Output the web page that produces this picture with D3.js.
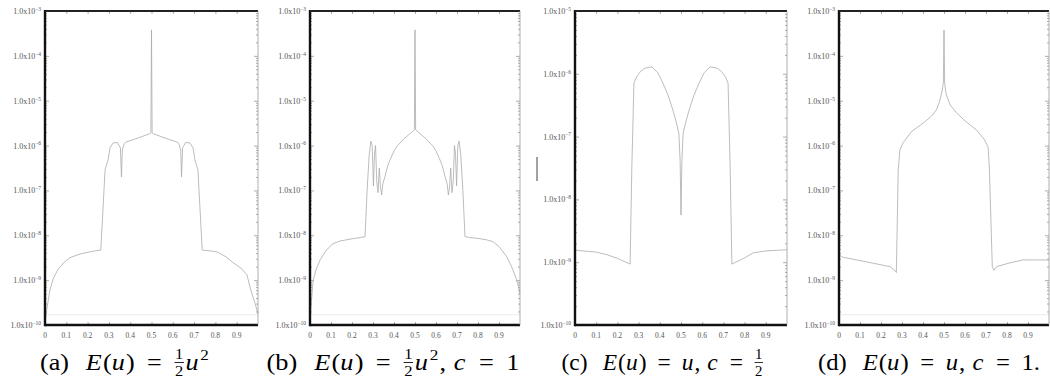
<!DOCTYPE html>
<html>
<head>
<meta charset="utf-8">
<script src="https://cdn.jsdelivr.net/npm/d3@7"></script>
<style>
  body { margin: 0; background: #fff; }
  svg { display: block; }
  text { font-family: "Liberation Serif", "DejaVu Serif", serif; }
</style>
</head>
<body>
<svg id="chart" width="1050" height="385"></svg>
<script>
// x ticks shared by all four panels
const xTicks = [0, 0.1, 0.2, 0.3, 0.4, 0.5, 0.6, 0.7, 0.8, 0.9];
const xTickLabels = ["0", "0.1", "0.2", "0.3", "0.4", "0.5", "0.6", "0.7", "0.8", "0.9"];

// decade exponents on the y axes (log scale)
const expTall = [-3, -4, -5, -6, -7, -8, -9, -10];
const expShort = [-5, -6, -7, -8, -9, -10];

// (a) E(u) = 1/2 u^2
const posA = [0, 0.008, 0.023, 0.04, 0.06, 0.09, 0.117, 0.15, 0.18, 0.22, 0.262, 0.282, 0.296, 0.305, 0.32, 0.34, 0.354, 0.359, 0.363, 0.372, 0.38, 0.42, 0.46, 0.49, 0.497, 0.5, 0.503, 0.51, 0.54, 0.58, 0.62, 0.628, 0.637, 0.641, 0.646, 0.66, 0.68, 0.695, 0.704, 0.718, 0.738, 0.78, 0.807, 0.85, 0.88, 0.92, 0.948, 0.966, 0.985, 1];
const valA = [1.12e-10, 2.14e-10, 6.03e-10, 1.12e-9, 1.7e-9, 2.51e-9, 3.16e-9, 3.63e-9, 3.98e-9, 4.37e-9, 4.68e-9, 2.88e-7, 4.79e-7, 8.91e-7, 1.15e-6, 1.17e-6, 8.91e-7, 2.0e-7, 7.94e-7, 1.12e-6, 1.2e-6, 1.38e-6, 1.62e-6, 1.82e-6, 1.91e-6, 3.8e-4, 1.91e-6, 1.82e-6, 1.62e-6, 1.38e-6, 1.2e-6, 1.12e-6, 7.94e-7, 2.0e-7, 8.91e-7, 1.17e-6, 1.15e-6, 8.91e-7, 4.79e-7, 2.88e-7, 4.68e-9, 4.47e-9, 4.27e-9, 3.31e-9, 2.51e-9, 1.86e-9, 1.32e-9, 6.03e-10, 3.16e-10, 1.78e-10];

// (b) E(u) = 1/2 u^2, c = 1
const posB = [0, 0.008, 0.015, 0.03, 0.048, 0.075, 0.105, 0.14, 0.175, 0.21, 0.24, 0.262, 0.272, 0.282, 0.29, 0.296, 0.302, 0.307, 0.312, 0.318, 0.324, 0.33, 0.335, 0.341, 0.347, 0.357, 0.37, 0.381, 0.4, 0.413, 0.45, 0.48, 0.497, 0.5, 0.503, 0.52, 0.55, 0.587, 0.6, 0.619, 0.63, 0.643, 0.653, 0.659, 0.665, 0.67, 0.676, 0.682, 0.688, 0.693, 0.698, 0.704, 0.71, 0.718, 0.728, 0.738, 0.76, 0.8, 0.84, 0.87, 0.9, 0.937, 0.96, 0.985, 1];
const valB = [1.41e-10, 3.98e-10, 1.0e-9, 1.78e-9, 2.82e-9, 4.47e-9, 6.31e-9, 7.41e-9, 7.94e-9, 8.51e-9, 8.91e-9, 9.33e-9, 1.0e-7, 6.31e-7, 1.26e-6, 1.0e-6, 1.26e-7, 6.31e-7, 1.0e-6, 1.58e-7, 8.91e-8, 3.16e-7, 1.26e-7, 7.94e-8, 1.41e-7, 2.04e-7, 3.55e-7, 4.79e-7, 7.59e-7, 9.55e-7, 1.45e-6, 1.91e-6, 2.24e-6, 3.8e-4, 2.24e-6, 1.91e-6, 1.45e-6, 9.55e-7, 7.59e-7, 4.79e-7, 3.55e-7, 2.04e-7, 1.41e-7, 7.94e-8, 1.26e-7, 3.16e-7, 8.91e-8, 1.58e-7, 1.0e-6, 6.31e-7, 1.26e-7, 1.0e-6, 1.26e-6, 6.31e-7, 1.0e-7, 9.33e-9, 8.91e-9, 8.51e-9, 7.94e-9, 7.24e-9, 5.62e-9, 3.31e-9, 2.0e-9, 1.0e-9, 5.01e-10];

// (c) E(u) = u, c = 1/2
const posC = [0, 0.04, 0.1, 0.15, 0.2, 0.26, 0.268, 0.278, 0.29, 0.31, 0.33, 0.362, 0.39, 0.415, 0.44, 0.462, 0.48, 0.49, 0.496, 0.5, 0.504, 0.51, 0.52, 0.538, 0.56, 0.585, 0.61, 0.638, 0.67, 0.69, 0.71, 0.722, 0.732, 0.74, 0.8, 0.84, 0.9, 1];
const valC = [1.55e-9, 1.51e-9, 1.45e-9, 1.32e-9, 1.15e-9, 9.33e-10, 3.16e-8, 7.08e-7, 8.91e-7, 1.1e-6, 1.23e-6, 1.29e-6, 1.05e-6, 7.08e-7, 4.47e-7, 2.63e-7, 1.58e-7, 1.12e-7, 3.98e-8, 5.62e-9, 3.98e-8, 1.12e-7, 1.58e-7, 2.63e-7, 4.47e-7, 7.08e-7, 1.05e-6, 1.29e-6, 1.23e-6, 1.1e-6, 8.91e-7, 7.08e-7, 3.16e-8, 9.33e-10, 1.17e-9, 1.41e-9, 1.51e-9, 1.58e-9];

// (d) E(u) = u, c = 1
const posD = [0, 0.02, 0.084, 0.16, 0.243, 0.265, 0.273, 0.282, 0.29, 0.305, 0.345, 0.4, 0.44, 0.465, 0.48, 0.49, 0.497, 0.5, 0.503, 0.51, 0.53, 0.56, 0.6, 0.654, 0.69, 0.71, 0.716, 0.73, 0.738, 0.75, 0.81, 0.875, 0.94, 1];
const valD = [3.63e-9, 3.24e-9, 2.82e-9, 2.4e-9, 2.0e-9, 1.66e-9, 1.48e-9, 2.88e-7, 7.94e-7, 1.15e-6, 2.04e-6, 3.16e-6, 4.47e-6, 6.31e-6, 1.0e-5, 1.58e-5, 2.51e-5, 3.8e-4, 2.51e-5, 1.41e-5, 7.94e-6, 5.37e-6, 3.55e-6, 2.24e-6, 1.41e-6, 9.33e-7, 3.16e-7, 2.0e-9, 1.66e-9, 2.0e-9, 2.4e-9, 2.82e-9, 2.82e-9, 2.82e-9];

// faint reference line near the bottom of panels a, b, d
const guideValue = 1.7e-10;

const svg = d3.select("#chart");
const plotTop = 11, plotBottom = 325;

const panels = [
  { pos: posA, val: valA, exps: expTall,  x0: 45,  x1: 258,  guide: true },
  { pos: posB, val: valB, exps: expTall,  x0: 310, x1: 520,  guide: true },
  { pos: posC, val: valC, exps: expShort, x0: 575, x1: 787,  guide: false },
  { pos: posD, val: valD, exps: expTall,  x0: 839, x1: 1049, guide: true }
];

panels.forEach(p => {
  const g = svg.append("g");

  const x = d3.scaleLinear().domain([0, 1]).range([p.x0, p.x1]);
  const y = d3.scaleLog()
    .domain([Math.pow(10, p.exps[p.exps.length - 1]), Math.pow(10, p.exps[0])])
    .range([plotBottom, plotTop]);

  const major = p.exps.map(e => Math.pow(10, e));
  const minor = [];
  p.exps.slice(1).forEach(e => {
    for (let k = 2; k <= 9; k++) minor.push(k * Math.pow(10, e));
  });

  if (p.guide) {
    g.append("line")
      .attr("x1", x(0)).attr("x2", x(1))
      .attr("y1", y(guideValue)).attr("y2", y(guideValue))
      .attr("stroke", "#ececec")
      .attr("stroke-width", 1);
  }

  // tick marks on all four sides, pointing inward
  const tickStyle = sel => {
    sel.select(".domain").remove();
    sel.selectAll("line").attr("stroke", "#888").attr("stroke-width", 0.7);
  };
  g.append("g").attr("transform", `translate(0,${plotBottom})`)
    .call(d3.axisBottom(x).tickValues(xTicks).tickSize(-3).tickFormat(""))
    .call(tickStyle);
  g.append("g").attr("transform", `translate(0,${plotTop})`)
    .call(d3.axisTop(x).tickValues(xTicks).tickSize(-3).tickFormat(""))
    .call(tickStyle);
  g.append("g").attr("transform", `translate(${p.x0},0)`)
    .call(d3.axisLeft(y).tickValues(major).tickSize(-4).tickFormat(""))
    .call(tickStyle);
  g.append("g").attr("transform", `translate(${p.x0},0)`)
    .call(d3.axisLeft(y).tickValues(minor).tickSize(-2).tickFormat(""))
    .call(tickStyle);
  g.append("g").attr("transform", `translate(${p.x1},0)`)
    .call(d3.axisRight(y).tickValues(major).tickSize(-4).tickFormat(""))
    .call(tickStyle);
  g.append("g").attr("transform", `translate(${p.x1},0)`)
    .call(d3.axisRight(y).tickValues(minor).tickSize(-2).tickFormat(""))
    .call(tickStyle);

  // the curve
  const line = d3.line().x(d => x(d[0])).y(d => y(d[1]));
  g.append("path")
    .datum(d3.zip(p.pos, p.val))
    .attr("d", line)
    .attr("fill", "none")
    .attr("stroke", "#ababab")
    .attr("stroke-width", 0.8);

  // frame: heavy left/bottom/top, thin right
  g.append("line").attr("x1", p.x0).attr("x2", p.x0).attr("y1", plotTop - 1).attr("y2", plotBottom + 1.2)
    .attr("stroke", "#111").attr("stroke-width", 2.4);
  g.append("line").attr("x1", p.x0).attr("x2", p.x1).attr("y1", plotBottom).attr("y2", plotBottom)
    .attr("stroke", "#111").attr("stroke-width", 2.4);
  g.append("line").attr("x1", p.x0).attr("x2", p.x1).attr("y1", plotTop).attr("y2", plotTop)
    .attr("stroke", "#222").attr("stroke-width", 1.8);
  g.append("line").attr("x1", p.x1).attr("x2", p.x1).attr("y1", plotTop).attr("y2", plotBottom)
    .attr("stroke", "#999").attr("stroke-width", 0.8);

  // x tick labels
  g.selectAll(".xl").data(xTicks).enter().append("text")
    .attr("x", d => x(d))
    .attr("y", plotBottom + 12.5)
    .attr("text-anchor", "middle")
    .attr("font-size", 7.5)
    .attr("fill", "#555")
    .text((d, i) => xTickLabels[i]);

  // y tick labels: 1.0x10^e
  const yl = g.selectAll(".yl").data(p.exps).enter().append("text")
    .attr("x", p.x0 - 4)
    .attr("y", d => y(Math.pow(10, d)) + 3)
    .attr("text-anchor", "end")
    .attr("font-size", 8)
    .attr("fill", "#555");
  yl.append("tspan").text("1.0x10");
  yl.append("tspan").attr("dy", -3.2).attr("font-size", 5.5).text(d => "\u2212" + (-d));
});

// small stray mark left of panel (c)
svg.append("line").attr("x1", 537).attr("x2", 537).attr("y1", 157).attr("y2", 181)
  .attr("stroke", "#444").attr("stroke-width", 1);

// captions, built piece by piece so that fractions can be stacked;
// spare width goes partly into the gaps, the rest into a slight stretch
const capFont = 23;
function caption(cx, baseline, width, parts) {
  const g = svg.append("g");
  const probe = g.append("text");
  const measure = (txt, size, italic) => {
    probe.attr("font-size", size).attr("font-style", italic ? "italic" : "normal").text(txt);
    return probe.node().getComputedTextLength();
  };
  let natural = 0, gaps = 0;
  parts.forEach(pt => {
    if (pt.sp) { gaps += pt.sp; return; }
    if (pt.f) { natural += Math.max(measure(pt.f[0], 14.5), measure(pt.f[1], 14.5)) + 3; return; }
    if (pt.sup) { natural += measure(pt.sup, 15) + 1.5; return; }
    natural += measure(pt.t, capFont, pt.i) + (pt.i ? 1 : 0);
  });
  probe.remove();
  const gapScale = Math.min(1.35, Math.max(0.8, (width - natural) / gaps));

  let cur = 0;
  parts.forEach(pt => {
    if (pt.sp) { cur += pt.sp * gapScale; return; }
    if (pt.f) {
      const n = g.append("text").attr("y", baseline - 11).attr("font-size", 14.5).attr("text-anchor", "middle").text(pt.f[0]);
      const d = g.append("text").attr("y", baseline + 6.5).attr("font-size", 14.5).attr("text-anchor", "middle").text(pt.f[1]);
      const w = Math.max(n.node().getComputedTextLength(), d.node().getComputedTextLength()) + 2;
      n.attr("x", cur + w / 2); d.attr("x", cur + w / 2);
      g.append("line").attr("x1", cur + 0.5).attr("x2", cur + w - 0.5)
        .attr("y1", baseline - 7.5).attr("y2", baseline - 7.5)
        .attr("stroke", "#000").attr("stroke-width", 0.8);
      cur += w + 1;
      return;
    }
    if (pt.sup) {
      const t = g.append("text").attr("x", cur + 0.5).attr("y", baseline - 10).attr("font-size", 15).text(pt.sup);
      cur += t.node().getComputedTextLength() + 1.5;
      return;
    }
    const t = g.append("text").attr("x", cur).attr("y", baseline)
      .attr("font-size", capFont)
      .attr("font-style", pt.i ? "italic" : "normal")
      .text(pt.t);
    cur += t.node().getComputedTextLength() + (pt.i ? 1 : 0);
  });
  const sx = Math.max(1, width / cur);
  g.attr("transform", `translate(${cx - cur * sx / 2},0) scale(${sx},1)`);
}

const lhs = [{ t: "E", i: 1 }, { t: "(" }, { t: "u", i: 1 }, { t: ")" }, { sp: 8 }, { t: "=" }, { sp: 8 }];
caption(125, 370, 170, [{ t: "(a)" }, { sp: 11 }, ...lhs, { f: ["1", "2"] }, { t: "u", i: 1 }, { sup: "2" }]);
caption(393, 370, 253, [{ t: "(b)" }, { sp: 11 }, ...lhs, { f: ["1", "2"] }, { t: "u", i: 1 }, { sup: "2" }, { t: "," }, { sp: 5 },
  { t: "c", i: 1 }, { sp: 8 }, { t: "=" }, { sp: 8 }, { t: "1" }]);
caption(663, 370, 203, [{ t: "(c)" }, { sp: 11 }, ...lhs, { t: "u", i: 1 }, { t: "," }, { sp: 5 },
  { t: "c", i: 1 }, { sp: 8 }, { t: "=" }, { sp: 8 }, { f: ["1", "2"] }]);
caption(929, 370, 222, [{ t: "(d)" }, { sp: 11 }, ...lhs, { t: "u", i: 1 }, { t: "," }, { sp: 5 },
  { t: "c", i: 1 }, { sp: 8 }, { t: "=" }, { sp: 8 }, { t: "1." }]);
</script>
</body>
</html>
